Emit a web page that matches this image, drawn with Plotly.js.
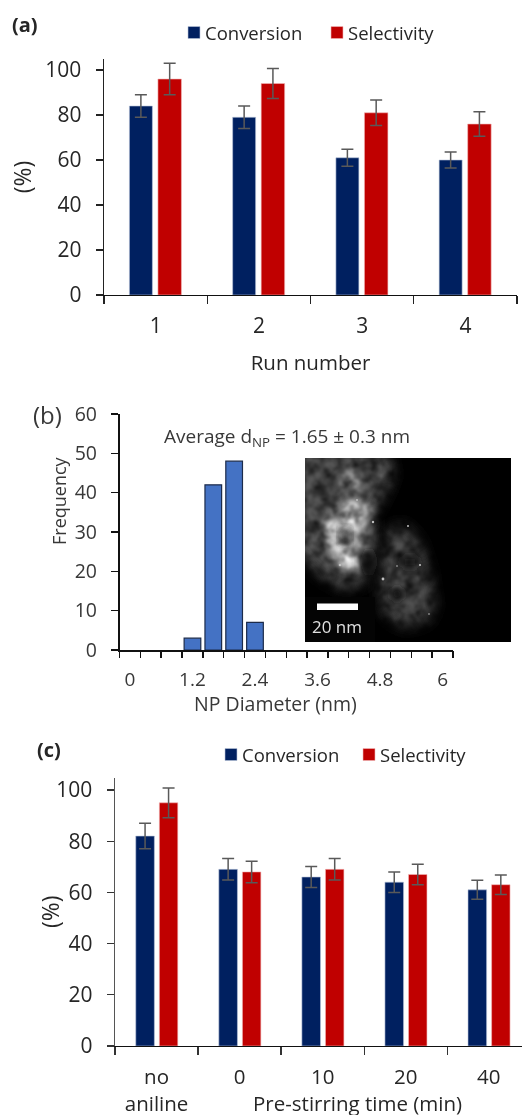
<!DOCTYPE html>
<html><head><meta charset="utf-8">
<script src="https://cdn.plot.ly/plotly-3.0.1.min.js"></script>
<style>html,body{margin:0;padding:0;background:#fff;overflow:hidden}#c{width:522px;height:1115px;filter:blur(0.3px)}</style>
</head><body><div id="c"></div>
<script>
const NAVY='#002060', RED='#C00000', ERR='#595959', FONT='"Open Sans", sans-serif', INK='#262626', SOFT='#383838';

const runLabels=['1','2','3','4'];
const runConversion=[84,79,61,60];
const runConversionErr=[5,5,3.8,3.6];
const runSelectivity=[96,94,81,76];
const runSelectivityErr=[7,6.7,5.7,5.4];

const diameters=[1.2,1.6,2.0,2.4];
const frequencies=[3,42,48,7];
const diameterLabelVals=[0,1.2,2.4,3.6,4.8,6];
const diameterLabels=['0','1.2','2.4','3.6','4.8','6'];
const diameterBoundaries=[-0.2,0.2,0.6,1.0,1.4,1.8,2.2,2.6,3.0,3.4,3.8,4.2,4.6,5.0,5.4,5.8,6.2];

const stirLabels=['no<br>aniline','0','10','20','40'];
const stirConversion=[82,69,66,64,61];
const stirConversionErr=[5,4.2,4.1,4,3.7];
const stirSelectivity=[95,68,69,67,63];
const stirSelectivityErr=[5.8,4.2,4.2,4,3.8];

const W=522,H=1115;
const dx=(a,b)=>[a/W,b/W];
const dy=(top,bot)=>[1-bot/H,1-top/H];

function bars(name,x,y,e,color,xa,ya,off,wid,legend,show){
  return {type:'bar',name,x,y,xaxis:xa,yaxis:ya,offset:off,width:wid,legend,showlegend:show,
    marker:{color,line:{color:color===NAVY?'#b9c4da':'#f2b8b8',width:0.6}},
    error_y:{type:'data',array:e,visible:true,color:ERR,thickness:1.5,width:6}};
}
const data=[
  bars('Conversion',runLabels,runConversion,runConversionErr,NAVY,'x','y',-0.254,0.2226,'legend',true),
  bars('Selectivity',runLabels,runSelectivity,runSelectivityErr,RED,'x','y',0.0223,0.2275,'legend',true),
  {type:'bar',name:'Frequency',x:diameters,y:frequencies,xaxis:'x2',yaxis:'y2',width:0.32,showlegend:false,
    marker:{color:'#4472C4',line:{color:'#1c2b4a',width:1.2}}},
  {type:'scatter',mode:'none',x:diameterBoundaries,y:diameterBoundaries.map(()=>0),xaxis:'x4',yaxis:'y2',showlegend:false,hoverinfo:'skip'},
  bars('Conversion',stirLabels,stirConversion,stirConversionErr,NAVY,'x3','y3',-0.25,0.224,'legend2',true),
  bars('Selectivity',stirLabels,stirSelectivity,stirSelectivityErr,RED,'x3','y3',0.034,0.222,'legend2',true)
];

const catX=(domain,range,extra)=>Object.assign({domain,type:'category',range,tickson:'boundaries',ticks:'outside',ticklen:7.5,
  tickcolor:'#222',tickwidth:1.3,showline:true,linecolor:'#111',linewidth:1.4,showgrid:false,zeroline:false,fixedrange:true,
  tickfont:{family:FONT,size:21,color:INK},ticklabelstandoff:11},extra);
const valY=(domain,range,vals,extra)=>Object.assign({domain,range,tickmode:'array',tickvals:vals,ticks:'outside',ticklen:7,
  tickcolor:'#222',tickwidth:1.3,showline:true,linecolor:'#222',linewidth:1.4,showgrid:false,zeroline:false,fixedrange:true,
  tickfont:{family:FONT,size:21,color:INK},ticklabelstandoff:10},extra);

const micrograph=`<svg xmlns="http://www.w3.org/2000/svg" width="412" height="368" viewBox="0 0 206 184">
<defs>
<filter id="soft" x="-40%" y="-40%" width="180%" height="180%"><feGaussianBlur stdDeviation="7"/></filter>
<filter id="soft2" x="-40%" y="-40%" width="180%" height="180%"><feGaussianBlur stdDeviation="4"/></filter>
<filter id="d"><feGaussianBlur stdDeviation="0.6"/></filter>
<filter id="mottle" x="0" y="0" width="100%" height="100%" color-interpolation-filters="sRGB">
  <feTurbulence type="fractalNoise" baseFrequency="0.08" numOctaves="3" seed="7" result="n"/>
  <feColorMatrix in="n" type="matrix" values="1.7 0 0 0 -0.18 1.7 0 0 0 -0.18 1.7 0 0 0 -0.18 0 0 0 0 1" result="g"/>
  <feGaussianBlur in="g" stdDeviation="1" result="gb"/>
  <feComposite in="SourceGraphic" in2="gb" operator="arithmetic" k1="1.1" k2="0.08" k3="0" k4="0"/>
</filter>
</defs>
<rect width="206" height="184" fill="#030303"/>
<g filter="url(#mottle)">
<rect width="206" height="184" fill="#000"/>
<path d="M-10 -10 H82 L88 18 L78 40 L68 58 L68 100 L60 125 L40 132 L15 118 L-10 90 Z" fill="#484848" filter="url(#soft)"/>
<path d="M82 72 L98 66 L114 82 L124 112 L130 150 L122 164 L100 170 L80 158 L74 130 Z" fill="#444" filter="url(#soft)"/>
<ellipse cx="42" cy="78" rx="20" ry="34" fill="#b0b0b0" filter="url(#soft)"/>
<ellipse cx="52" cy="55" rx="13" ry="11" fill="#e4e4e4" filter="url(#soft2)"/>
<ellipse cx="28" cy="72" rx="9" ry="12" fill="#d0d0d0" filter="url(#soft2)"/>
<ellipse cx="44" cy="98" rx="14" ry="12" fill="#d4d4d4" filter="url(#soft2)"/>
<ellipse cx="46" cy="24" rx="10" ry="12" fill="#909090" filter="url(#soft2)"/>
<ellipse cx="76" cy="14" rx="6" ry="6" fill="#686868" filter="url(#soft2)"/>
<ellipse cx="40" cy="78" rx="5" ry="7" fill="#303030" filter="url(#soft2)"/>
<ellipse cx="64" cy="104" rx="8" ry="14" fill="#0c0c0c" filter="url(#soft2)"/>
<ellipse cx="105" cy="104" rx="10" ry="7" fill="#141414" filter="url(#soft2)"/>
<ellipse cx="92" cy="136" rx="7" ry="7" fill="#181818" filter="url(#soft2)"/>
</g>
<g fill="#c0c0c0" filter="url(#d)"><circle cx="68" cy="64" r="1.2"/><circle cx="35" cy="107" r="1.3"/><circle cx="78" cy="121" r="1.4"/><circle cx="115" cy="107" r="1.1"/><circle cx="103" cy="68" r="1"/><circle cx="52" cy="42" r="0.9"/><circle cx="92" cy="108" r="0.8"/><circle cx="124" cy="156" r="0.8"/></g>
</svg>`;

const layout={
  width:W,height:H,margin:{l:0,r:0,t:0,b:0,pad:0},paper_bgcolor:'#fff',plot_bgcolor:'#fff',
  font:{family:FONT,color:INK},barmode:'overlay',
  xaxis:catX(dx(104,517),[-0.5,3.5],{anchor:'y',title:{text:'Run number',standoff:18,font:{family:FONT,size:20.5,color:INK}}}),
  yaxis:valY(dy(59,295),[0,104.9],[0,20,40,60,80,100],{anchor:'x',title:{text:'(%)',standoff:7,font:{family:FONT,size:23,color:INK}}}),
  xaxis2:{domain:dx(119.5,453),anchor:'y2',range:[-0.2,6.2],tickmode:'array',tickvals:diameterLabelVals,ticktext:diameterLabels,ticks:'',
    showline:true,linecolor:'#111',linewidth:1.6,showgrid:false,zeroline:false,fixedrange:true,
    tickfont:{family:FONT,size:19,color:SOFT},ticklabelstandoff:12},
  xaxis4:{domain:dx(119.5,453),anchor:'y2',overlaying:'x2',side:'bottom',range:[-0.2,6.2],tickmode:'array',tickvals:diameterBoundaries,
    ticks:'outside',ticklen:7,tickcolor:'#111',tickwidth:1.4,showticklabels:false,showline:false,showgrid:false,zeroline:false,fixedrange:true},
  yaxis2:{domain:dy(414,650),anchor:'x2',range:[0,60],tickmode:'array',tickvals:[0,10,20,30,40,50,60],ticks:'outside',ticklen:7,
    tickcolor:'#111',tickwidth:1.4,showline:true,linecolor:'#111',linewidth:1.6,showgrid:false,zeroline:false,fixedrange:true,
    tickfont:{family:FONT,size:19.5,color:SOFT},ticklabelstandoff:10},
  xaxis3:catX(dx(115,522),[-0.5,4.4],{anchor:'y3',tickcolor:'#333',ticklabelstandoff:12,tickfont:{family:FONT,size:20.5,color:INK}}),
  yaxis3:valY(dy(777.7,1046),[0,104.8],[0,20,40,60,80,100],{anchor:'x3',linecolor:'#555',tickcolor:'#333'}),
  legend:{orientation:'h',x:165/W,xanchor:'left',y:1-33/H,yanchor:'middle',font:{family:FONT,size:18.5,color:INK},entrywidth:98,entrywidthmode:'pixels',traceorder:'normal',bgcolor:'rgba(0,0,0,0)',itemclick:false,itemdoubleclick:false},
  legend2:{orientation:'h',x:202/W,xanchor:'left',y:1-755/H,yanchor:'middle',font:{family:FONT,size:18.5,color:INK},entrywidth:93,entrywidthmode:'pixels',traceorder:'normal',bgcolor:'rgba(0,0,0,0)',itemclick:false,itemdoubleclick:false},
  images:[{source:'data:image/svg+xml;charset=utf-8,'+encodeURIComponent(micrograph),xref:'paper',yref:'paper',x:305/W,y:1-458/H,sizex:206/W,sizey:184/H,sizing:'stretch',xanchor:'left',yanchor:'top',layer:'above'}],
  shapes:[
    {type:'rect',xref:'paper',yref:'paper',x0:305/W,x1:375/W,y0:1-642/H,y1:1-597/H,fillcolor:'#040404',line:{width:0}},
    {type:'rect',xref:'paper',yref:'paper',x0:317/W,x1:358/W,y0:1-610/H,y1:1-603.5/H,fillcolor:'#fff',line:{width:0}}
  ],
  annotations:[
    {text:'<b>(a)</b>',x:25,y:25,size:20},
    {text:'(b)',x:47,y:414,size:24,color:SOFT},
    {text:'<b>(c)</b>',x:49,y:749,size:20},
    {text:'Average d<sub>NP</sub> = 1.65 ± 0.3 nm',x:287,y:437,size:19,color:SOFT},
    {text:'Frequency',x:59,y:501,size:18,color:SOFT,textangle:-90},
    {text:'NP Diameter (nm)',x:275,y:703,size:19.5,color:SOFT},
    {text:'20 nm',x:337,y:626,size:17,color:'#e0e0e0'},
    {text:'(%)',x:50,y:912,size:23,color:INK,textangle:-90},
    {text:'Pre-stirring time (min)',x:357,y:1103,size:20.5,color:INK}
  ].map(a=>({text:a.text,xref:'paper',yref:'paper',x:a.x/W,y:1-a.y/H,xanchor:'center',yanchor:'middle',showarrow:false,
    textangle:a.textangle||0,font:{family:FONT,size:a.size,color:a.color||INK}}))
};
Plotly.newPlot('c',data,layout,{displayModeBar:false,staticPlot:true}).then(gd=>{
  gd.querySelectorAll('.legendsymbols').forEach(s=>s.setAttribute('transform','translate(9,0)'));
});
</script></body></html>
